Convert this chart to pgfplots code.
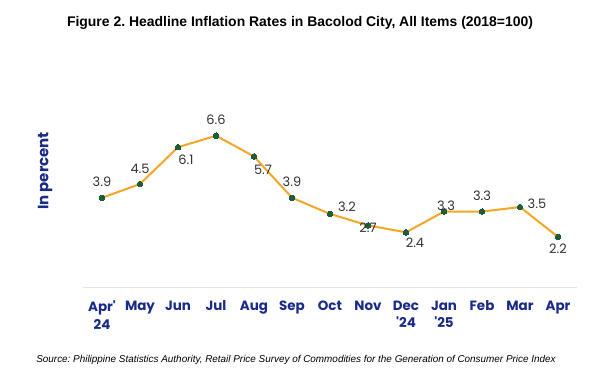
\documentclass[border=0pt]{standalone}
\usepackage{fontspec}
\setmainfont{Liberation Sans}
\newfontfamily\pop{Poppins}
\usepackage{pgfplots}
\usepackage{pgfplotstable}
\pgfplotsset{compat=1.18}
\frenchspacing
\definecolor{navy}{HTML}{1A2A8A}
\definecolor{lineor}{HTML}{F5A623}
\definecolor{mk}{HTML}{1F5C3A}
\definecolor{lbl}{HTML}{333333}
\pgfplotstableread{
x y dx dy
0 3.9 0 16
1 4.5 0 15
2 6.1 8 -13
3 6.6 0 16
4 5.7 9 -13
5 3.9 0 16
6 3.2 17 7
7 2.7 0 -2
8 2.4 9 -11
9 3.3 2 6
10 3.3 0 16
11 3.5 17 3
12 2.2 0 -12
}\datatable
\begin{document}
\begin{tikzpicture}
\fill[white] (0,0) rectangle (600bp,-384bp);
\useasboundingbox (0,0) rectangle (600bp,-384bp);
\node[font=\bfseries\fontsize{14}{16}\selectfont, text=black] at (300bp,-23bp) {Figure 2. Headline Inflation Rates in Bacolod City, All Items (2018=100)};
\node[font=\itshape\fontsize{9.95}{11}\selectfont, text=black] at (296bp,-360bp) {Source: Philippine Statistics Authority, Retail Price Survey of Commodities for the Generation of Consumer Price Index};
\node[font=\pop\bfseries\fontsize{15}{17}\selectfont, text=navy, rotate=90] at (45bp,-171bp) {In percent};
\begin{axis}[
  at={(83bp,-287.5bp)}, anchor=south west,
  scale only axis, width=494bp, height=184bp,
  xmin=-0.5, xmax=12.5, ymin=0, ymax=8,
  clip=false,
  hide y axis,
  axis x line*=bottom,
  x axis line style={draw=gray!22, line width=1pt, -},
  major tick length=0pt,
  xtick={0,...,12},
  xticklabels={{Apr'\\24},May,Jun,Jul,Aug,Sep,Oct,Nov,{Dec\\'24},{Jan\\'25},Feb,Mar,Apr},
  xticklabel style={align=center, text=navy, font=\pop\bfseries\fontsize{13.5}{17.5}\selectfont, anchor=north, yshift=-10pt},
  nodes near coords={\pgfmathprintnumber[fixed,precision=1,fixed zerofill,assume math mode=true]{\pgfplotspointmeta}},
  visualization depends on={\thisrow{dx} \as \dx},
  visualization depends on={\thisrow{dy} \as \dy},
  every node near coord/.append style={anchor=center, xshift=\dx pt, yshift=\dy pt, text=lbl, font=\pop\fontsize{13}{15}\selectfont},
]
\addplot[color=lineor, line width=2pt, mark=*, mark size=2.8pt, mark options={fill=mk, draw=mk, line width=0pt}] table[x=x,y=y] {\datatable};
\end{axis}
\end{tikzpicture}
\end{document}
